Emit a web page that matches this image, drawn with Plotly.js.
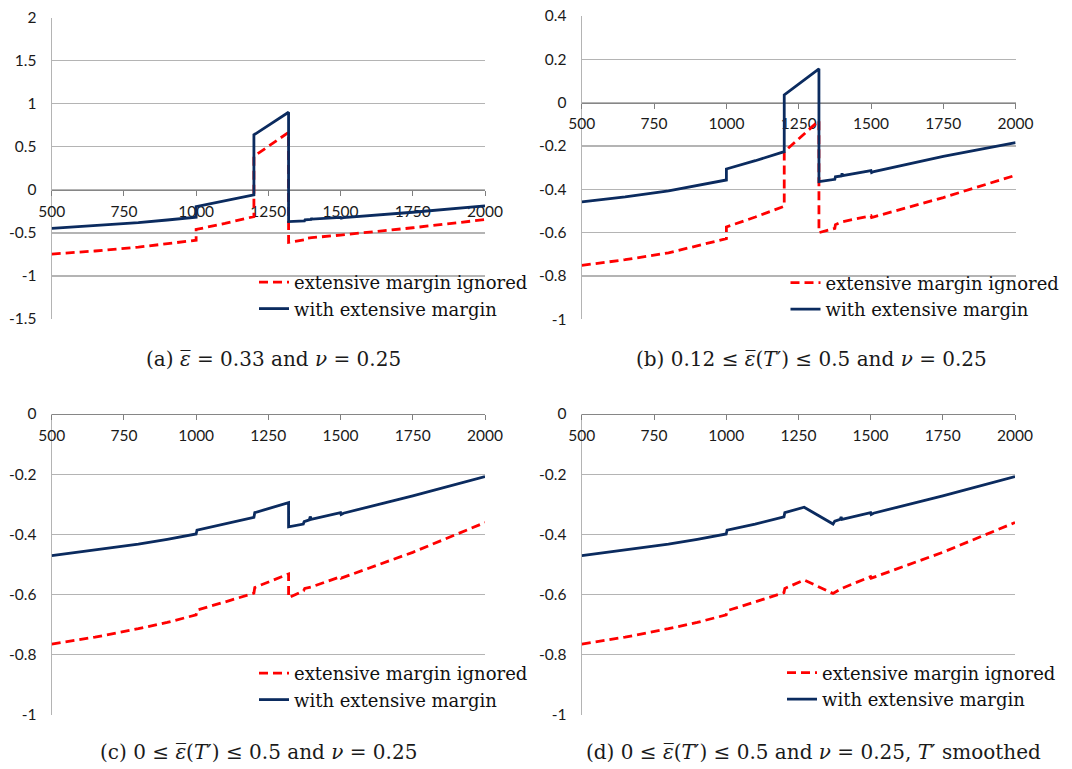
<!DOCTYPE html>
<html>
<head>
<meta charset="utf-8">
<script src="https://cdn.plot.ly/plotly-3.0.1.min.js"></script>
<style>
html,body{margin:0;padding:0;background:#fff;}
#chart{width:1072px;height:769px;}
</style>
</head>
<body>
<div id="chart"></div>
<script>
// ---------------- DATA ----------------
const seriesNames = ['extensive margin ignored', 'with extensive margin'];
const xTickVals = [500, 750, 1000, 1250, 1500, 1750, 2000];
const xTickText = ['500', '750', '1000', '1250', '1500', '1750', '2000'];

// Panel (a)
const yTickValsA = [2, 1.5, 1, 0.5, 0, -0.5, -1, -1.5];
const yTickTextA = ['2', '1.5', '1', '0.5', '0', '-0.5', '-1', '-1.5'];
const redA_x = [500, 650, 800, 900, 1000, 1000, 1100, 1200, 1200, 1320, 1320, 1375, 1377, 1400, 1500, 1750, 2000];
const redA_y = [-0.746, -0.71, -0.665, -0.625, -0.585, -0.46, -0.39, -0.31, 0.39, 0.668, -0.61, -0.58, -0.565, -0.555, -0.525, -0.44, -0.345];
const blueA_x = [500, 650, 800, 900, 1000, 1000, 1100, 1200, 1200, 1320, 1320, 1375, 1377, 1398, 1400, 1402, 1500, 1502, 1510, 1750, 2000];
const blueA_y = [-0.447, -0.415, -0.38, -0.35, -0.317, -0.195, -0.13, -0.058, 0.639, 0.902, -0.368, -0.36, -0.347, -0.342, -0.328, -0.34, -0.32, -0.328, -0.322, -0.26, -0.186];

// Panel (b)
const yTickValsB = [0.4, 0.2, 0, -0.2, -0.4, -0.6, -0.8, -1];
const yTickTextB = ['0.4', '0.2', '0', '-0.2', '-0.4', '-0.6', '-0.8', '-1'];
const redB_x = [500, 650, 800, 900, 1000, 1000, 1100, 1200, 1200, 1320, 1320, 1375, 1377, 1400, 1500, 1502, 1750, 2000];
const redB_y = [-0.751, -0.725, -0.693, -0.66, -0.628, -0.574, -0.528, -0.478, -0.227, -0.083, -0.6, -0.58, -0.563, -0.55, -0.522, -0.53, -0.438, -0.335];
const blueB_x = [500, 650, 800, 900, 1000, 1000, 1100, 1200, 1200, 1320, 1320, 1375, 1377, 1398, 1400, 1402, 1500, 1502, 1510, 1750, 2000];
const blueB_y = [-0.458, -0.435, -0.407, -0.383, -0.357, -0.306, -0.268, -0.226, 0.036, 0.156, -0.365, -0.354, -0.342, -0.338, -0.326, -0.337, -0.314, -0.323, -0.318, -0.248, -0.185];

// Panel (c)
const yTickValsC = [0, -0.2, -0.4, -0.6, -0.8, -1];
const yTickTextC = ['0', '-0.2', '-0.4', '-0.6', '-0.8', '-1'];
const redC_x = [500, 650, 800, 900, 1000, 1003, 1100, 1200, 1203, 1320, 1320, 1372, 1376, 1400, 1500, 1502, 1750, 2000];
const redC_y = [-0.765, -0.742, -0.714, -0.693, -0.668, -0.652, -0.625, -0.596, -0.577, -0.532, -0.611, -0.588, -0.58, -0.575, -0.541, -0.546, -0.46, -0.361];
const blueC_x = [500, 650, 800, 900, 1000, 1003, 1100, 1200, 1203, 1320, 1320, 1371, 1374, 1392, 1395, 1398, 1500, 1502, 1510, 1750, 2000];
const blueC_y = [-0.471, -0.453, -0.433, -0.417, -0.399, -0.386, -0.366, -0.344, -0.328, -0.295, -0.375, -0.366, -0.358, -0.352, -0.341, -0.35, -0.328, -0.334, -0.33, -0.272, -0.208];

// Panel (d)
const yTickValsD = [0, -0.2, -0.4, -0.6, -0.8, -1];
const yTickTextD = ['0', '-0.2', '-0.4', '-0.6', '-0.8', '-1'];
const redD_x = [500, 650, 800, 900, 1000, 1003, 1100, 1200, 1203, 1270, 1370, 1400, 1500, 1502, 1750, 2000];
const redD_y = [-0.765, -0.742, -0.714, -0.693, -0.668, -0.654, -0.625, -0.594, -0.58, -0.552, -0.597, -0.58, -0.541, -0.546, -0.46, -0.361];
const blueD_x = [500, 650, 800, 900, 1000, 1003, 1100, 1200, 1203, 1270, 1370, 1376, 1395, 1398, 1401, 1500, 1502, 1510, 1750, 2000];
const blueD_y = [-0.471, -0.453, -0.433, -0.417, -0.399, -0.386, -0.366, -0.342, -0.328, -0.31, -0.366, -0.356, -0.35, -0.343, -0.35, -0.328, -0.334, -0.33, -0.272, -0.208];

const captions = [
  '(a) <i>ε̅</i> = 0.33 and <i>ν</i> = 0.25',
  '(b) 0.12 ≤ <i>ε̅</i>(<i>T</i>′) ≤ 0.5 and <i>ν</i> = 0.25',
  '(c) 0 ≤ <i>ε̅</i>(<i>T</i>′) ≤ 0.5 and <i>ν</i> = 0.25',
  '(d) 0 ≤ <i>ε̅</i>(<i>T</i>′) ≤ 0.5 and <i>ν</i> = 0.25, <i>T</i>′ smoothed'
];

// ---------------- LAYOUT HELPERS ----------------
const W = 1072, H = 769;
const px = v => v / W;
const py = v => (H - v) / H;

const RED = '#ff0000', BLUE = '#0b2b5f';
const tickFont = {family: 'Lato, "Liberation Sans", sans-serif', size: 15.5, color: '#1a1a1a'};
const serif = '"DejaVu Serif", "Liberation Serif", serif';

const panels = [
  {id: '',  rx: redA_x, ry: redA_y, bx: blueA_x, by: blueA_y, yr: [-1.5, 2], tv: yTickValsA, tt: yTickTextA,
   xd: [51.7, 485], yd: [17.7, 319], leg: [254, 264], cap: [273, 359]},
  {id: '2', rx: redB_x, ry: redB_y, bx: blueB_x, by: blueB_y, yr: [-1, 0.4], tv: yTickValsB, tt: yTickTextB,
   xd: [581.8, 1015.6], yd: [16, 319.3], leg: [785.5, 264.5], cap: [811, 359]},
  {id: '3', rx: redC_x, ry: redC_y, bx: blueC_x, by: blueC_y, yr: [-1, 0], tv: yTickValsC, tt: yTickTextC,
   xd: [51.7, 485], yd: [414, 714.7], leg: [254, 655], cap: [258.5, 752]},
  {id: '4', rx: redD_x, ry: redD_y, bx: blueD_x, by: blueD_y, yr: [-1, 0], tv: yTickValsD, tt: yTickTextD,
   xd: [581.8, 1015], yd: [414, 714.7], leg: [782, 654.5], cap: [813.5, 752]}
];

const data = [];
const layout = {
  width: W, height: H,
  margin: {l: 0, r: 0, t: 0, b: 0},
  paper_bgcolor: '#ffffff', plot_bgcolor: '#ffffff',
  showlegend: true, hovermode: false,
  annotations: []
};

panels.forEach((p, i) => {
  const xa = 'x' + p.id, ya = 'y' + p.id;
  const legName = i === 0 ? 'legend' : 'legend' + (i + 1);
  data.push({
    type: 'scatter', mode: 'lines', x: p.rx, y: p.ry, xaxis: xa, yaxis: ya,
    name: seriesNames[0], legend: legName,
    line: {color: RED, width: 2.8, dash: '9px,5px'}
  });
  data.push({
    type: 'scatter', mode: 'lines', x: p.bx, y: p.by, xaxis: xa, yaxis: ya,
    name: seriesNames[1], legend: legName,
    line: {color: BLUE, width: 2.8}
  });
  const yDom = [py(p.yd[1]), py(p.yd[0])];
  const zeroPos = yDom[0] + (0 - p.yr[0]) / (p.yr[1] - p.yr[0]) * (yDom[1] - yDom[0]);
  layout['xaxis' + p.id] = {
    domain: [px(p.xd[0]), px(p.xd[1])],
    anchor: 'free', position: zeroPos,
    range: [500, 2000], tickvals: xTickVals, ticktext: xTickText,
    ticks: 'outside', ticklen: 5, tickcolor: '#7f7f7f', tickwidth: 1,
    ticklabelstandoff: 2,
    showline: true, linecolor: '#868686', linewidth: 1.2,
    showgrid: false, zeroline: false, tickfont: tickFont,
    layer: 'below traces', fixedrange: true
  };
  layout['yaxis' + p.id] = {
    domain: yDom, anchor: xa,
    range: p.yr, tickvals: p.tv, ticktext: p.tt,
    ticks: '', ticklabelstandoff: 11,
    showline: true, linecolor: '#b4b4b4', linewidth: 1.2,
    showgrid: true, gridcolor: '#b4b4b4', gridwidth: 1.2,
    zeroline: false, tickfont: tickFont,
    layer: 'below traces', fixedrange: true
  };
  layout[legName] = {
    x: px(p.leg[0]), y: py(p.leg[1]), xanchor: 'left', yanchor: 'top',
    xref: 'paper', yref: 'paper',
    bgcolor: 'rgba(0,0,0,0)', borderwidth: 0,
    font: {family: serif, size: 18, color: '#111'},
    itemwidth: 30, traceorder: 'normal', tracegroupgap: 0
  };
  layout.annotations.push({
    xref: 'paper', yref: 'paper', x: px(p.cap[0]), y: py(p.cap[1]),
    xanchor: 'center', yanchor: 'middle', showarrow: false,
    text: captions[i],
    font: {family: serif, size: 20, color: '#1a1a1a'}
  });
});

Plotly.newPlot('chart', data, layout, {staticPlot: true, displayModeBar: false});
</script>
</body>
</html>
